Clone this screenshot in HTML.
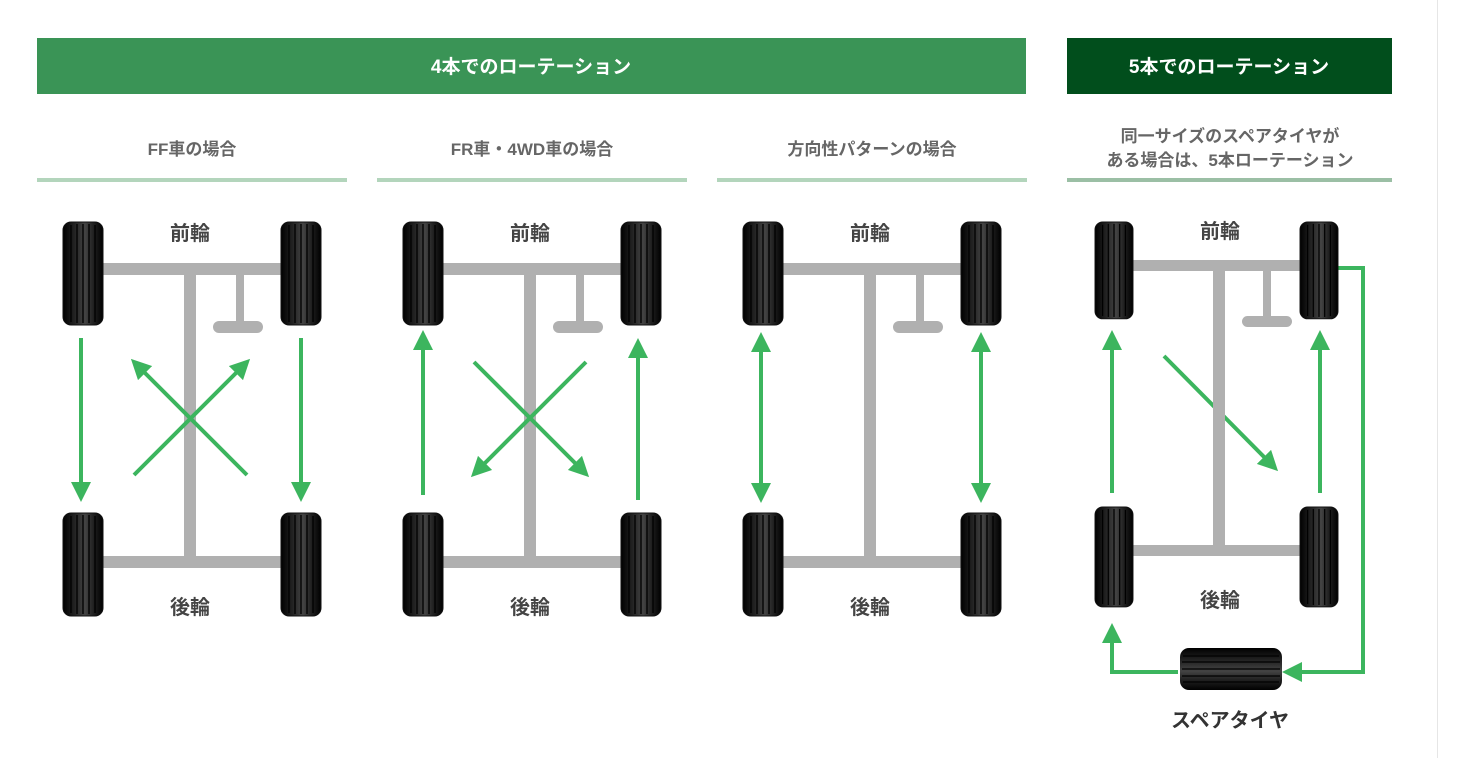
<!DOCTYPE html>
<html><head><meta charset="utf-8"><style>
html,body{margin:0;padding:0;background:#fff;}
svg{display:block;}
text{font-family:"Liberation Sans","Noto Sans CJK JP",sans-serif;font-weight:bold;}
</style></head><body>
<svg width="1461" height="758" viewBox="0 0 1461 758" xmlns="http://www.w3.org/2000/svg">
<defs>
<linearGradient id="tg" x1="0" x2="1" y1="0" y2="0">
<stop offset="0" stop-color="#000"/><stop offset="0.35" stop-color="#2a2a2a"/><stop offset="0.55" stop-color="#444"/><stop offset="0.75" stop-color="#222"/><stop offset="1" stop-color="#000"/>
</linearGradient>
<linearGradient id="tgh" x1="0" x2="0" y1="0" y2="1">
<stop offset="0" stop-color="#000"/><stop offset="0.35" stop-color="#2a2a2a"/><stop offset="0.55" stop-color="#444"/><stop offset="0.75" stop-color="#222"/><stop offset="1" stop-color="#000"/>
</linearGradient>
<g id="tire">
<rect x="0" y="0" width="40" height="103" rx="8" fill="url(#tg)"/>
<g stroke="#000" stroke-width="1.3">
<line x1="8" y1="3" x2="8" y2="100"/><line x1="14" y1="2" x2="14" y2="101"/><line x1="20" y1="2" x2="20" y2="101"/><line x1="26" y1="2" x2="26" y2="101"/><line x1="32" y1="3" x2="32" y2="100"/>
</g>
<rect x="0" y="0" width="40" height="103" rx="8" fill="none" stroke="#111" stroke-width="1"/>
</g>
<g id="car">
<rect x="100" y="263" width="185" height="12" fill="#b0b0b0"/>
<rect x="184" y="263" width="12" height="300" fill="#b0b0b0"/>
<rect x="100" y="556" width="185" height="12" fill="#b0b0b0"/>
<rect x="236" y="275" width="8" height="50" fill="#b0b0b0"/>
<rect x="213" y="321" width="50" height="12" rx="6" fill="#b0b0b0"/>
<use href="#tire" x="63" y="222"/><use href="#tire" x="281" y="222"/>
<use href="#tire" x="63" y="513"/><use href="#tire" x="281" y="513"/>
<text x="190" y="240" font-size="20" fill="#444" text-anchor="middle">前輪</text>
<text x="190" y="614" font-size="20" fill="#444" text-anchor="middle">後輪</text>
</g>
<marker id="ah" viewBox="0 0 10 10" refX="5" refY="5" markerWidth="5" markerHeight="5" orient="auto-start-reverse">
<path d="M0,0 L10,5 L0,10 z" fill="#3cb55e"/>
</marker>
</defs>

<rect x="37" y="38" width="989" height="56" fill="#3a9456"/>
<text x="531" y="73" font-size="19" fill="#fff" text-anchor="middle">4本でのローテーション</text>
<rect x="1067" y="38" width="325" height="56" fill="#014e1c"/>
<text x="1229" y="73" font-size="19" fill="#fff" text-anchor="middle">5本でのローテーション</text>

<g font-size="17">
<text x="192" y="155" text-anchor="middle" fill="#666">FF車の場合</text>
<text x="532" y="155" text-anchor="middle" fill="#666">FR車・4WD車の場合</text>
<text x="872" y="155" text-anchor="middle" fill="#666">方向性パターンの場合</text>
<text x="1230" y="142" text-anchor="middle" fill="#666">同一サイズのスペアタイヤが</text>
<text x="1230" y="166" text-anchor="middle" fill="#666">ある場合は、5本ローテーション</text>
</g>
<rect x="37" y="178" width="310" height="4" fill="#b3d5bc"/>
<rect x="377" y="178" width="310" height="4" fill="#b3d5bc"/>
<rect x="717" y="178" width="310" height="4" fill="#b3d5bc"/>
<rect x="1067" y="178" width="325" height="4" fill="#9bbfa5"/>
<rect x="1437" y="0" width="1" height="758" fill="#e6e6e6"/>

<use href="#car" x="0" y="0"/>
<use href="#car" x="340" y="0"/>
<use href="#car" x="680" y="0"/>

<g stroke="#3cb55e" stroke-width="4" fill="none" marker-end="url(#ah)">
<line x1="81" y1="338" x2="81" y2="492"/>
<line x1="301" y1="338" x2="301" y2="492"/>
<line x1="247" y1="475" x2="138" y2="366"/>
<line x1="134" y1="475" x2="243" y2="366"/>
<line x1="423" y1="495" x2="423" y2="340"/>
<line x1="638" y1="500" x2="638" y2="348"/>
<line x1="474" y1="362" x2="582" y2="470"/>
<line x1="586" y1="362" x2="478" y2="470"/>
<line x1="761" y1="342" x2="761" y2="493" marker-start="url(#ah)"/>
<line x1="981" y1="342" x2="981" y2="493" marker-start="url(#ah)"/>
<line x1="1112" y1="493" x2="1112" y2="340"/>
<line x1="1320" y1="493" x2="1320" y2="340"/>
<line x1="1164" y1="356" x2="1271" y2="464"/>
<polyline points="1338,268 1363,268 1363,672 1292,672"/>
<polyline points="1178,672 1112,672 1112,633"/>
</g>

<rect x="1130" y="260" width="175" height="11" fill="#b0b0b0"/>
<rect x="1213" y="260" width="12" height="290" fill="#b0b0b0"/>
<rect x="1130" y="545" width="175" height="11" fill="#b0b0b0"/>
<rect x="1263" y="271" width="8" height="50" fill="#b0b0b0"/>
<rect x="1242" y="316" width="50" height="11" rx="5.5" fill="#b0b0b0"/>
<use href="#tire" transform="translate(1095,222) scale(0.95,0.94)"/>
<use href="#tire" transform="translate(1300,222) scale(0.95,0.94)"/>
<use href="#tire" transform="translate(1095,507) scale(0.95,0.97)"/>
<use href="#tire" transform="translate(1300,507) scale(0.95,0.97)"/>
<text x="1220" y="238" font-size="20" fill="#444" text-anchor="middle">前輪</text>
<text x="1220" y="607" font-size="20" fill="#444" text-anchor="middle">後輪</text>
<rect x="1180" y="648" width="102" height="42" rx="9" fill="url(#tgh)"/>
<g stroke="#000" stroke-width="1.2">
<line x1="1183" y1="656" x2="1279" y2="656"/><line x1="1182" y1="662" x2="1280" y2="662"/><line x1="1182" y1="669" x2="1280" y2="669"/><line x1="1182" y1="676" x2="1280" y2="676"/><line x1="1183" y1="682" x2="1279" y2="682"/>
</g>
<text x="1230" y="727" font-size="20" fill="#333" text-anchor="middle">スペアタイヤ</text>
</svg>
</body></html>
